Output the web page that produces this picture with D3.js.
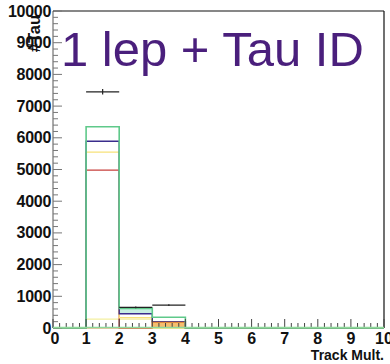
<!DOCTYPE html>
<html>
<head>
<meta charset="utf-8">
<script src="https://cdn.jsdelivr.net/npm/d3@7"></script>
<style>
  html, body { margin: 0; padding: 0; background: #fff; }
  svg { display: block; }
  text { font-family: "Liberation Sans", Arial, sans-serif; }
</style>
</head>
<body>
<svg id="chart" width="390" height="364"></svg>
<script>
// Bin lower edges of the track multiplicity histogram (unit-width bins, 0..10)
const binEdges = [0, 1, 2, 3, 4, 5, 6, 7, 8, 9];

// Overlaid simulated contributions (one value per bin)
const greenHist  = [0, 6350, 620, 340, 0, 0, 0, 0, 0, 0];
const tealHist   = [0, 0, 620, 0, 0, 0, 0, 0, 0, 0];
const blueHist   = [0, 5890, 450, 200, 0, 0, 0, 0, 0, 0];
const yellowHist = [0, 5550, 330, 0, 0, 0, 0, 0, 0, 0];
const paleHist   = [0, 280, 280, 0, 0, 0, 0, 0, 0, 0];
const redHist    = [0, 4980, 0, 200, 0, 0, 0, 0, 0, 0];
const orangeHist = [0, 0, 0, 180, 0, 0, 0, 0, 0, 0];

// Observed data points
const dataX = [1.5, 2.5, 3.5];
const dataY = [7450, 650, 720];

const yTicks = [0, 1000, 2000, 3000, 4000, 5000, 6000, 7000, 8000, 9000, 10000];
const xTicks = [0, 1, 2, 3, 4, 5, 6, 7, 8, 9, 10];

const svg = d3.select("#chart");
const L = 53, R = 384, T = 11, B = 328;

const x = d3.scaleLinear().domain([0, 10]).range([L, R]);
const y = d3.scaleLinear().domain([0, 10000]).range([B, T]);

// Histogram outline path (step shape) for one series
function stepPath(vals) {
  let p = `M${x(0)},${y(0)}`;
  vals.forEach((v, i) => {
    p += `L${x(binEdges[i])},${y(v)}L${x(binEdges[i] + 1)},${y(v)}`;
  });
  p += `L${x(10)},${y(0)}`;
  return p;
}

// Filled contributions drawn first
function fillBins(vals, color) {
  svg.append("g").selectAll("rect")
    .data(vals.map((v, i) => ({ v, i })).filter(d => d.v > 0))
    .join("rect")
    .attr("x", d => x(binEdges[d.i]))
    .attr("width", d => x(binEdges[d.i] + 1) - x(binEdges[d.i]))
    .attr("y", d => y(d.v))
    .attr("height", d => y(0) - y(d.v))
    .attr("fill", color);
}
fillBins(tealHist, "#c6efe2");
fillBins(blueHist.map((v, i) => tealHist[i] > 0 ? v : 0), "#ffffff");
fillBins(orangeHist, "#f6bd6e");

// Outlines
const lines = [
  [paleHist, "#f3f0a0", 1.2],
  [redHist, "#c8403c", 1.3],
  [yellowHist, "#f7e27a", 1.3],
  [blueHist, "#3a2d8c", 1.4],
  [orangeHist, "#e08a3a", 1.2],
  [greenHist, "#5fc98a", 1.6]
];
lines.forEach(([vals, color, w]) => {
  svg.append("path")
    .attr("d", stepPath(vals))
    .attr("fill", "none")
    .attr("stroke", color)
    .attr("stroke-width", w);
});

// Axis lines (grey) and frame
svg.append("line").attr("x1", L).attr("x2", L).attr("y1", T).attr("y2", B)
  .attr("stroke", "#555").attr("stroke-width", 1);
svg.append("line").attr("x1", L).attr("x2", R).attr("y1", T).attr("y2", T)
  .attr("stroke", "#111").attr("stroke-width", 1.2);
svg.append("line").attr("x1", R).attr("x2", R).attr("y1", T).attr("y2", B)
  .attr("stroke", "#111").attr("stroke-width", 1.2);

// Y axis: major ticks every 1000, minor every 200, pointing inward
const yAxis = svg.append("g");
d3.range(0, 10001, 200).forEach(v => {
  const major = v % 1000 === 0;
  yAxis.append("line")
    .attr("x1", L).attr("x2", L + (major ? 9 : 5))
    .attr("y1", y(v)).attr("y2", y(v))
    .attr("stroke", "#777").attr("stroke-width", 1);
});
yAxis.selectAll("text.yl").data(yTicks).join("text")
  .attr("class", "yl")
  .attr("x", L - 2).attr("y", d => y(d) + 5.5)
  .attr("text-anchor", "end")
  .attr("font-size", 16).attr("font-weight", "bold").attr("fill", "#111")
  .attr("letter-spacing", -0.3)
  .text(d => d);

// X axis: major ticks at integers, minor every 0.2, pointing up
const xAxis = svg.append("g");
d3.range(0, 50.5, 1).forEach(k => {
  const v = k / 5;
  const major = k % 5 === 0;
  xAxis.append("line")
    .attr("x1", x(v)).attr("x2", x(v))
    .attr("y1", B).attr("y2", B - (major ? 9 : 5))
    .attr("stroke", "#444").attr("stroke-width", 1);
});
xAxis.selectAll("text.xl").data(xTicks).join("text")
  .attr("class", "xl")
  .attr("x", d => x(d) + (d === 0 ? 2 : 0)).attr("y", B + 16)
  .attr("text-anchor", "middle")
  .attr("font-size", 16).attr("font-weight", "bold").attr("fill", "#111")
  .text(d => d);

// Zero-level green baseline across the full range
svg.append("line").attr("x1", x(0)).attr("x2", x(10)).attr("y1", B - 0.5).attr("y2", B - 0.5)
  .attr("stroke", "#8fd89a").attr("stroke-width", 1.5);

// Data points with horizontal bin width and vertical Poisson errors
const pts = svg.append("g");
dataX.forEach((cx, i) => {
  const v = dataY[i], e = Math.sqrt(v);
  pts.append("line").attr("x1", x(cx - 0.5)).attr("x2", x(cx + 0.5))
    .attr("y1", y(v)).attr("y2", y(v)).attr("stroke", "#222").attr("stroke-width", 1.2);
  pts.append("line").attr("x1", x(cx)).attr("x2", x(cx))
    .attr("y1", y(v + e)).attr("y2", y(v - e)).attr("stroke", "#222").attr("stroke-width", 1.2);
});

// Axis titles
svg.append("text")
  .attr("transform", `translate(40,15) rotate(-90)`)
  .attr("text-anchor", "end")
  .attr("font-size", 16.5).attr("font-weight", "bold").attr("fill", "#111")
  .text("#Tau");
svg.append("text")
  .attr("x", R).attr("y", 360)
  .attr("text-anchor", "end")
  .attr("font-size", 14).attr("font-weight", "bold").attr("fill", "#111")
  .text("Track Mult.");

// Title
svg.append("text")
  .attr("x", 61).attr("y", 66)
  .attr("font-size", 49).attr("fill", "#4a1f7c")
  .text("1 lep + Tau ID");
</script>
</body>
</html>
